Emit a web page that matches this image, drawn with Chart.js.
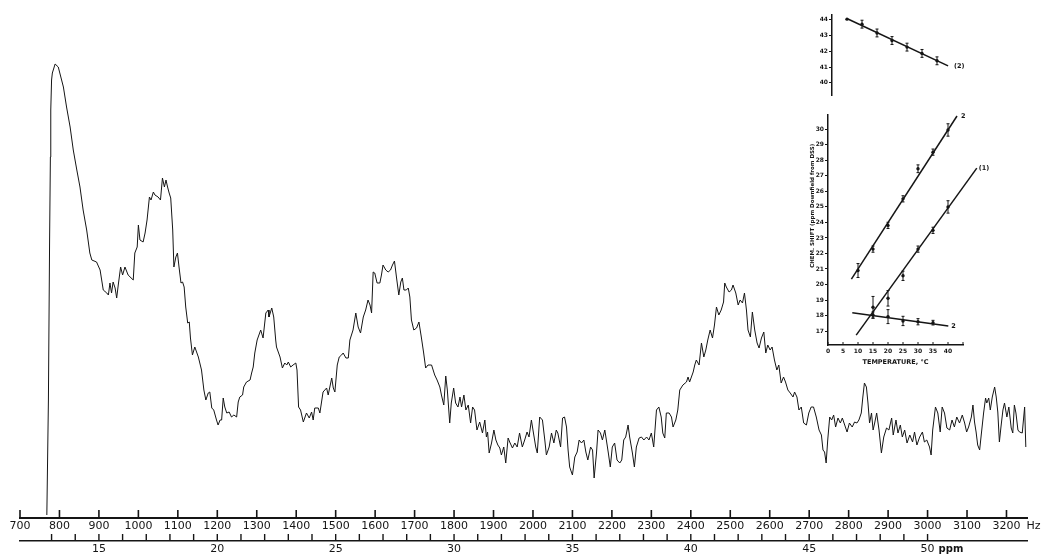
<!DOCTYPE html>
<html>
<head>
<meta charset="utf-8">
<script src="https://cdn.jsdelivr.net/npm/chart.js@4.4.1/dist/chart.umd.min.js"></script>
<style>
  html, body { margin: 0; padding: 0; background: #fff; }
  #wrap { position: relative; width: 1045px; height: 557px; overflow: hidden; }
  canvas { position: absolute; }
  #spectrum { left: 0; top: 0; }
  #upper { left: 794px; top: 5px; }
  #lower { left: 790px; top: 105px; }
</style>
</head>
<body>
<div id="wrap">
  <canvas id="spectrum" width="1045" height="557"></canvas>
  <canvas id="upper" width="183" height="95"></canvas>
  <canvas id="lower" width="205" height="270"></canvas>
</div>
<script>
// ── Spectrum (Hz vs. relative intensity) ──
const hz = [
  768, 772, 775, 777, 778, 780, 782, 789, 797, 810,
  818, 827, 835, 844, 852, 860, 869, 877, 882, 894,
  903, 907, 911, 920, 924, 928, 932, 936, 941, 945,
  949, 955, 960, 966, 974, 987, 991, 997, 1000, 1004,
  1012, 1017, 1022, 1028, 1032, 1038, 1042, 1050, 1056, 1061,
  1066, 1070, 1074, 1078, 1082, 1087, 1090, 1095, 1099, 1103,
  1108, 1112, 1116, 1120, 1125, 1129, 1132, 1137, 1143, 1152,
  1160, 1166, 1171, 1177, 1181, 1186, 1191, 1198, 1202, 1207,
  1211, 1215, 1219, 1224, 1230, 1236, 1242, 1249, 1253, 1257,
  1264, 1267, 1274, 1283, 1287, 1291, 1295, 1301, 1310, 1316,
  1323, 1329, 1331, 1338, 1343, 1348, 1350, 1359, 1365, 1371,
  1376, 1380, 1386, 1392, 1399, 1402, 1406, 1411, 1418, 1426,
  1433, 1439, 1443, 1447, 1456, 1460, 1468, 1477, 1481, 1490,
  1494, 1498, 1504, 1509, 1515, 1519, 1526, 1532, 1536, 1540,
  1544, 1551, 1557, 1563, 1570, 1576, 1582, 1587, 1591, 1595,
  1599, 1605, 1612, 1616, 1620, 1627, 1633, 1639, 1644, 1649,
  1654, 1660, 1665, 1669, 1673, 1679, 1684, 1688, 1692, 1698,
  1705, 1711, 1717, 1723, 1728, 1734, 1743, 1751, 1757, 1764,
  1768, 1774, 1779, 1783, 1789, 1793, 1799, 1804, 1810, 1815,
  1819, 1825, 1830, 1836, 1842, 1847, 1852, 1858, 1865, 1872,
  1878, 1882, 1885, 1889, 1895, 1901, 1906, 1911, 1916, 1920,
  1926, 1931, 1937, 1941, 1948, 1954, 1960, 1966, 1973, 1979,
  1985, 1990, 1996, 2000, 2007, 2011, 2017, 2024, 2030, 2034,
  2041, 2047, 2053, 2059, 2063, 2070, 2075, 2080, 2085, 2089,
  2093, 2100, 2106, 2112, 2117, 2123, 2129, 2134, 2139, 2146,
  2151, 2155, 2161, 2165, 2171, 2176, 2182, 2186, 2191, 2196,
  2201, 2207, 2213, 2220, 2225, 2230, 2235, 2241, 2245, 2252,
  2257, 2262, 2269, 2275, 2281, 2288, 2294, 2300, 2306, 2313,
  2319, 2325, 2329, 2334, 2338, 2345, 2351, 2355, 2362, 2367,
  2372, 2380, 2389, 2393, 2397, 2406, 2410, 2414, 2421, 2427,
  2433, 2438, 2443, 2449, 2455, 2460, 2465, 2471, 2477, 2483,
  2486, 2490, 2497, 2503, 2507, 2514, 2520, 2525, 2531, 2536,
  2541, 2545, 2551, 2556, 2562, 2568, 2573, 2579, 2585, 2590,
  2595, 2601, 2606, 2612, 2618, 2623, 2629, 2635, 2640, 2646,
  2652, 2659, 2663, 2669, 2674, 2680, 2686, 2693, 2699, 2705,
  2711, 2718, 2725, 2731, 2735, 2739, 2743, 2747, 2752, 2757,
  2762, 2767, 2773, 2779, 2784, 2790, 2796, 2802, 2809, 2815,
  2821, 2826, 2832, 2836, 2840, 2845, 2849, 2853, 2858, 2862,
  2866, 2871, 2877, 2883, 2889, 2896, 2902, 2909, 2913, 2920,
  2925, 2931, 2936, 2942, 2948, 2955, 2962, 2967, 2973, 2980,
  2987, 2992, 2998, 3005, 3009, 3013, 3020, 3026, 3032, 3037,
  3043, 3049, 3056, 3062, 3068, 3074, 3081, 3088, 3094, 3099,
  3104, 3111, 3115, 3119, 3123, 3127, 3132, 3136, 3142, 3147,
  3150, 3155, 3159, 3164, 3170, 3174, 3178, 3182, 3186, 3191,
  3195, 3201, 3206, 3212, 3216, 3220, 3224, 3229, 3233, 3240,
  3246, 3249
];
const intensity = [
  3, 118, 278, 361, 408, 438, 445, 454, 451, 431,
  411, 391, 368, 348, 331, 308, 288, 265, 258, 256,
  248, 238, 228, 225, 223, 235, 225, 236, 230, 220,
  233, 251, 243, 251, 243, 238, 265, 271, 293, 278,
  276, 285, 298, 321, 318, 326, 323, 321, 318, 340,
  331, 338, 331, 325, 320, 288, 251, 261, 265, 251,
  235, 236, 231, 211, 195, 196, 180, 163, 171, 161,
  148, 128, 118, 125, 126, 110, 108, 98, 93, 98,
  98, 120, 111, 105, 106, 101, 103, 101, 116, 121,
  123, 131, 136, 138, 145, 151, 165, 178, 188, 180,
  205, 208, 201, 210, 201, 178, 171, 161, 150, 155,
  153, 156, 151, 153, 155, 148, 111, 108, 96, 105,
  100, 106, 98, 110, 110, 105, 126, 130, 123, 140,
  130, 126, 153, 161, 163, 165, 160, 160, 178, 183,
  188, 205, 191, 185, 201, 208, 218, 213, 205, 246,
  245, 235, 235, 243, 253, 248, 246, 248, 253, 257,
  241, 223, 236, 240, 228, 228, 230, 221, 198, 188,
  190, 196, 181, 165, 150, 153, 153, 143, 138, 131,
  123, 113, 142, 128, 95, 115, 130, 115, 111, 121,
  111, 123, 108, 113, 95, 111, 108, 88, 96, 85,
  98, 81, 86, 65, 75, 88, 78, 73, 70, 63,
  71, 55, 80, 76, 70, 75, 71, 85, 71, 78,
  86, 81, 98, 88, 71, 65, 101, 98, 78, 63,
  71, 85, 75, 88, 85, 71, 100, 101, 91, 68,
  51, 43, 61, 66, 78, 75, 78, 66, 58, 71,
  68, 40, 65, 88, 85, 78, 88, 78, 65, 51,
  71, 75, 58, 55, 58, 78, 81, 93, 81, 65,
  51, 71, 80, 81, 78, 81, 78, 85, 71, 108,
  111, 101, 85, 80, 105, 105, 101, 91, 98, 108,
  128, 133, 136, 141, 136, 146, 153, 158, 153, 175,
  161, 168, 178, 188, 180, 193, 211, 203, 208, 216,
  235, 231, 226, 228, 233, 225, 213, 218, 215, 225,
  208, 188, 181, 206, 188, 175, 170, 180, 186, 165,
  173, 168, 171, 158, 148, 153, 135, 141, 136, 128,
  125, 121, 126, 121, 108, 111, 95, 93, 105, 111,
  111, 101, 88, 83, 68, 66, 55, 78, 101, 98,
  103, 91, 100, 95, 100, 93, 86, 95, 91, 96,
  95, 98, 105, 121, 135, 131, 115, 95, 105, 88,
  95, 105, 88, 65, 81, 90, 88, 100, 83, 98,
  85, 93, 81, 88, 75, 83, 76, 86, 73, 81,
  86, 76, 78, 71, 63, 88, 111, 105, 86, 111,
  105, 90, 88, 98, 91, 101, 95, 103, 95, 86,
  91, 101, 113, 96, 86, 73, 68, 83, 105, 120,
  115, 120, 108, 121, 131, 121, 106, 76, 91, 108,
  115, 101, 111, 90, 85, 113, 105, 88, 86, 85,
  111, 71
];

// ── Inset: chemical shift vs. temperature ──
const tempUp = [5, 10, 15, 20, 25, 30, 35];
const shiftUp = [44.05, 43.73, 43.17, 42.69, 42.27, 41.87, 41.4];
const errUp = [0, 0.25, 0.25, 0.25, 0.25, 0.25, 0.25];
const fitUpT = [5.3, 38.7];
const fitUpV = [44.06, 41.08];

const tempA = [10, 15, 20, 25, 30, 35, 40];
const shiftA = [20.9, 22.28, 23.81, 25.52, 27.46, 28.53, 29.96];
const errA = [0.45, 0.2, 0.2, 0.2, 0.25, 0.2, 0.4];
const fitAT = [7.8, 43];
const fitAV = [20.34, 30.86];

const tempB = [15, 20, 25, 30, 35, 40];
const shiftB = [18.53, 19.11, 20.56, 22.28, 23.49, 25.0];
const errB = [0.7, 0.5, 0.3, 0.2, 0.2, 0.4];
const fitBT = [9.4, 49.6];
const fitBV = [16.74, 27.5];

const tempC = [15, 20, 25, 30, 35];
const shiftC = [18.03, 17.93, 17.65, 17.6, 17.54];
const errC = [0.2, 0.45, 0.3, 0.2, 0.15];
const fitCT = [8.1, 40.1];
const fitCV = [18.18, 17.32];

const INK = "#151515";
const FONT = "'DejaVu Sans', sans-serif";
Chart.defaults.font.family = FONT;
Chart.defaults.color = INK;

// tick marks that stand up from an axis line
const tickMarks = {
  id: "tickMarks",
  afterDraw(chart, args, opts) {
    const ctx = chart.ctx;
    const marks = opts.marks || {};
    ctx.save();
    ctx.strokeStyle = INK;
    Object.keys(marks).forEach((id) => {
      const s = chart.scales[id];
      const m = marks[id];
      if (!s) return;
      ctx.lineWidth = m.width || 1;
      s.ticks.forEach((t) => {
        if (m.from != null && t.value < m.from) return;
        if (m.to != null && t.value > m.to) return;
        const p = s.getPixelForValue(t.value);
        ctx.beginPath();
        ctx.moveTo(p, s.top);
        ctx.lineTo(p, s.top - m.len);
        ctx.stroke();
      });
    });
    ctx.restore();
  },
};

// unit words written after a tick label
const unitText = {
  id: "unitText",
  afterDraw(chart, args, opts) {
    const ctx = chart.ctx;
    ctx.save();
    ctx.fillStyle = INK;
    ctx.textAlign = "left";
    ctx.textBaseline = "middle";
    (opts.items || []).forEach((it) => {
      const s = chart.scales[it.scale];
      ctx.font = it.font;
      ctx.fillText(it.text, s.getPixelForValue(it.value) + it.dx, s.top + it.dy);
    });
    ctx.restore();
  },
};

// error bars, line tags and the rotated y title of the inset
const insetMarks = {
  id: "insetMarks",
  afterDatasetsDraw(chart, args, opts) {
    const { ctx } = chart;
    const x = chart.scales.x, y = chart.scales.y;
    ctx.save();
    ctx.strokeStyle = INK;
    ctx.fillStyle = INK;
    ctx.lineWidth = 1;
    chart.data.datasets.forEach((ds) => {
      if (ds.errors) {
        ds.data.forEach((p, i) => {
          const e = ds.errors[i];
          if (!e) return;
          const px = x.getPixelForValue(p.x);
          const y1 = y.getPixelForValue(p.y - e);
          const y2 = y.getPixelForValue(p.y + e);
          ctx.beginPath();
          ctx.moveTo(px, y1); ctx.lineTo(px, y2);
          ctx.moveTo(px - 1.5, y1); ctx.lineTo(px + 1.5, y1);
          ctx.moveTo(px - 1.5, y2); ctx.lineTo(px + 1.5, y2);
          ctx.stroke();
        });
      }
      if (ds.tag) {
        const last = ds.data[ds.data.length - 1];
        ctx.font = "bold 6.5px " + FONT;
        ctx.textAlign = "left";
        ctx.textBaseline = "middle";
        ctx.fillText(ds.tag, x.getPixelForValue(last.x) + ds.tagDx, y.getPixelForValue(last.y));
      }
    });
    if (opts.yTitle) {
      ctx.font = "bold 5.5px " + FONT;
      ctx.textAlign = "center";
      ctx.textBaseline = "middle";
      ctx.translate(y.left + opts.yTitleDx, (y.top + y.bottom) / 2 + opts.yTitleDy);
      ctx.rotate(-Math.PI / 2);
      ctx.fillText(opts.yTitle, 0, 0);
    }
    ctx.restore();
  },
};

new Chart(document.getElementById("spectrum"), {
  type: "line",
  data: {
    datasets: [
      {
        data: hz.map((h, i) => ({ x: h, y: intensity[i] })),
        xAxisID: "hz",
        yAxisID: "y",
        borderColor: INK,
        borderWidth: 1,
        pointRadius: 0,
        tension: 0,
        fill: false,
      },
    ],
  },
  options: {
    responsive: false,
    animation: false,
    devicePixelRatio: 1,
    layout: { padding: { left: 20, right: 18, top: 58, bottom: 0 } },
    plugins: {
      legend: { display: false },
      tooltip: { enabled: false },
      tickMarks: {
        marks: {
          hz: { len: 8, width: 1.6 },
          ppm: { len: 7, width: 1.4, from: 13, to: 50 },
        },
      },
      unitText: {
        items: [
          { scale: "hz", value: 3200, text: "Hz", dx: 20, dy: 8, font: "11px " + FONT },
          { scale: "ppm", value: 50, text: "ppm", dx: 11, dy: 8, font: "bold 10px " + FONT },
        ],
      },
    },
    scales: {
      hz: {
        type: "linear",
        axis: "x",
        position: "bottom",
        min: 700,
        max: 3252,
        afterFit: (s) => { s.height = 23; },
        grid: { display: true, drawOnChartArea: false, drawTicks: false },
        border: { display: true, color: INK, width: 2 },
        ticks: {
          stepSize: 100,
          includeBounds: false,
          autoSkip: false,
          maxRotation: 0,
          padding: 2,
          color: INK,
          font: { family: FONT, size: 11 },
          callback: (v) => String(v),
        },
      },
      ppm: {
        type: "linear",
        axis: "x",
        position: "bottom",
        min: 700 / 60,
        max: 3252 / 60,
        afterFit: (s) => { s.height = 16; },
        grid: { display: true, drawOnChartArea: false, drawTicks: false },
        border: { display: true, color: INK, width: 1.5 },
        ticks: {
          stepSize: 1,
          includeBounds: false,
          autoSkip: false,
          maxRotation: 0,
          padding: 2,
          color: INK,
          font: { family: FONT, size: 11 },
          callback: (v) => (v % 5 === 0 && v >= 15 && v <= 50 ? String(v) : ""),
        },
      },
      y: { type: "linear", display: false, min: 0, max: 460 },
    },
  },
  plugins: [tickMarks, unitText],
});

const pointSet = (t, v, e) => ({
  data: t.map((x, i) => ({ x, y: v[i] })),
  errors: e,
  showLine: false,
  pointRadius: 1.7,
  pointBackgroundColor: INK,
  pointBorderColor: INK,
  pointBorderWidth: 0,
});
const fitSet = (t, v, tag, dx) => ({
  data: t.map((x, i) => ({ x, y: v[i] })),
  tag,
  tagDx: dx,
  borderColor: INK,
  borderWidth: 1.5,
  pointRadius: 0,
  clip: false,
});
const insetTicks = {
  stepSize: 1,
  includeBounds: false,
  autoSkip: false,
  maxRotation: 0,
  padding: 1,
  color: INK,
  font: { family: FONT, size: 6, weight: "bold" },
};

new Chart(document.getElementById("upper"), {
  type: "line",
  data: { datasets: [pointSet(tempUp, shiftUp, errUp), fitSet(fitUpT, fitUpV, "(2)", 6)] },
  options: {
    responsive: false,
    animation: false,
    devicePixelRatio: 1,
    layout: { padding: { left: 0, right: 10, top: 10.2, bottom: 3.2 } },
    plugins: { legend: { display: false }, tooltip: { enabled: false } },
    scales: {
      x: { type: "linear", display: false, min: 0, max: 45 },
      y: {
        type: "linear",
        min: 39.2,
        max: 44.3,
        afterFit: (s) => { s.width = 38; },
        grid: { display: true, drawOnChartArea: false, drawTicks: true, tickLength: 3, color: INK, lineWidth: 1 },
        border: { display: true, color: INK, width: 1.5 },
        ticks: insetTicks,
      },
    },
  },
  plugins: [insetMarks],
});

new Chart(document.getElementById("lower"), {
  type: "line",
  data: {
    datasets: [
      pointSet(tempA, shiftA, errA),
      fitSet(fitAT, fitAV, "2", 4),
      pointSet(tempB, shiftB, errB),
      fitSet(fitBT, fitBV, "(1)", 2),
      pointSet(tempC, shiftC, errC),
      fitSet(fitCT, fitCV, "2", 3),
    ],
  },
  options: {
    responsive: false,
    animation: false,
    devicePixelRatio: 1,
    layout: { padding: { left: 0, right: 32, top: 9.6, bottom: 0 } },
    plugins: {
      legend: { display: false },
      tooltip: { enabled: false },
      tickMarks: { marks: { x: { len: 3, width: 1 } } },
      insetMarks: { yTitle: "CHEM. SHIFT (ppm Downfield from DSS)", yTitleDx: 23, yTitleDy: -24 },
    },
    scales: {
      x: {
        type: "linear",
        min: 0,
        max: 45,
        afterFit: (s) => { s.height = 30; },
        grid: { display: true, drawOnChartArea: false, drawTicks: false },
        border: { display: true, color: INK, width: 1.5 },
        ticks: { ...insetTicks, stepSize: 5, padding: 3, callback: (v) => (v < 45 ? String(v) : "") },
        title: {
          display: true,
          text: "TEMPERATURE, °C",
          color: INK,
          font: { family: FONT, size: 6.5, weight: "bold" },
          padding: { top: 0, bottom: 8.8 },
        },
      },
      y: {
        type: "linear",
        min: 16.1,
        max: 30.95,
        afterFit: (s) => { s.width = 38; },
        grid: { display: true, drawOnChartArea: false, drawTicks: true, tickLength: 3, color: INK, lineWidth: 1 },
        border: { display: true, color: INK, width: 1.5 },
        ticks: insetTicks,
      },
    },
  },
  plugins: [tickMarks, insetMarks],
});
</script>
</body>
</html>
